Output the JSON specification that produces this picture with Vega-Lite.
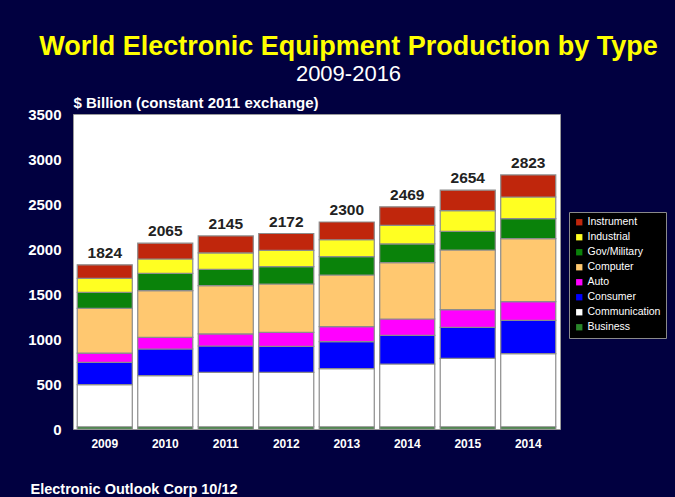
{
  "$schema": "https://vega.github.io/schema/vega-lite/v6.json",
  "width": 487,
  "height": 315,
  "autosize": "none",
  "padding": {"left": 73, "top": 114, "right": 115, "bottom": 68},
  "background": "#010040",
  "title": {
    "text": "World Electronic Equipment Production by Type",
    "subtitle": "2009-2016",
    "anchor": "middle",
    "dx": 32,
    "font": "Liberation Sans",
    "fontSize": 27,
    "fontWeight": "bold",
    "color": "#FFFF00",
    "subtitleFont": "Liberation Sans",
    "subtitleFontSize": 22,
    "subtitleColor": "#FFFFFF",
    "subtitlePadding": 3,
    "offset": 9
  },
  "config": {
    "view": {"fill": "#FFFFFF", "stroke": "#9a9a9a"},
    "axisY": {
      "values": [0, 500, 1000, 1500, 2000, 2500, 3000, 3500],
      "format": "d",
      "labelFont": "Liberation Sans",
      "labelFontSize": 15,
      "labelFontWeight": "bold",
      "labelColor": "#FFFFFF",
      "labelPadding": 12,
      "domain": false,
      "ticks": false,
      "grid": false,
      "titleAngle": 0,
      "titleAlign": "left",
      "titleBaseline": "alphabetic",
      "titleX": 0,
      "titleY": -7,
      "titleColor": "#FFFFFF",
      "titleFont": "Liberation Sans",
      "titleFontSize": 15,
      "titleFontWeight": "bold"
    }
  },
  "data": {
    "values": [
      {"year": "2009", "type": "Business", "value": 25, "ord": 1},
      {"year": "2009", "type": "Communication", "value": 468, "ord": 2},
      {"year": "2009", "type": "Consumer", "value": 248, "ord": 3},
      {"year": "2009", "type": "Auto", "value": 103, "ord": 4},
      {"year": "2009", "type": "Computer", "value": 497, "ord": 5},
      {"year": "2009", "type": "Gov/Military", "value": 178, "ord": 6},
      {"year": "2009", "type": "Industrial", "value": 155, "ord": 7},
      {"year": "2009", "type": "Instrument", "value": 150, "ord": 8},
      {"year": "2010", "type": "Business", "value": 25, "ord": 1},
      {"year": "2010", "type": "Communication", "value": 568, "ord": 2},
      {"year": "2010", "type": "Consumer", "value": 296, "ord": 3},
      {"year": "2010", "type": "Auto", "value": 130, "ord": 4},
      {"year": "2010", "type": "Computer", "value": 518, "ord": 5},
      {"year": "2010", "type": "Gov/Military", "value": 193, "ord": 6},
      {"year": "2010", "type": "Industrial", "value": 159, "ord": 7},
      {"year": "2010", "type": "Instrument", "value": 176, "ord": 8},
      {"year": "2011", "type": "Business", "value": 25, "ord": 1},
      {"year": "2011", "type": "Communication", "value": 605, "ord": 2},
      {"year": "2011", "type": "Consumer", "value": 292, "ord": 3},
      {"year": "2011", "type": "Auto", "value": 134, "ord": 4},
      {"year": "2011", "type": "Computer", "value": 537, "ord": 5},
      {"year": "2011", "type": "Gov/Military", "value": 181, "ord": 6},
      {"year": "2011", "type": "Industrial", "value": 182, "ord": 7},
      {"year": "2011", "type": "Instrument", "value": 189, "ord": 8},
      {"year": "2012", "type": "Business", "value": 25, "ord": 1},
      {"year": "2012", "type": "Communication", "value": 605, "ord": 2},
      {"year": "2012", "type": "Consumer", "value": 289, "ord": 3},
      {"year": "2012", "type": "Auto", "value": 155, "ord": 4},
      {"year": "2012", "type": "Computer", "value": 537, "ord": 5},
      {"year": "2012", "type": "Gov/Military", "value": 193, "ord": 6},
      {"year": "2012", "type": "Industrial", "value": 181, "ord": 7},
      {"year": "2012", "type": "Instrument", "value": 187, "ord": 8},
      {"year": "2013", "type": "Business", "value": 25, "ord": 1},
      {"year": "2013", "type": "Communication", "value": 645, "ord": 2},
      {"year": "2013", "type": "Consumer", "value": 300, "ord": 3},
      {"year": "2013", "type": "Auto", "value": 167, "ord": 4},
      {"year": "2013", "type": "Computer", "value": 574, "ord": 5},
      {"year": "2013", "type": "Gov/Military", "value": 204, "ord": 6},
      {"year": "2013", "type": "Industrial", "value": 188, "ord": 7},
      {"year": "2013", "type": "Instrument", "value": 197, "ord": 8},
      {"year": "2014", "type": "Business", "value": 25, "ord": 1},
      {"year": "2014", "type": "Communication", "value": 697, "ord": 2},
      {"year": "2014", "type": "Consumer", "value": 319, "ord": 3},
      {"year": "2014", "type": "Auto", "value": 181, "ord": 4},
      {"year": "2014", "type": "Computer", "value": 626, "ord": 5},
      {"year": "2014", "type": "Gov/Military", "value": 208, "ord": 6},
      {"year": "2014", "type": "Industrial", "value": 207, "ord": 7},
      {"year": "2014", "type": "Instrument", "value": 206, "ord": 8},
      {"year": "2015", "type": "Business", "value": 25, "ord": 1},
      {"year": "2015", "type": "Communication", "value": 760, "ord": 2},
      {"year": "2015", "type": "Consumer", "value": 345, "ord": 3},
      {"year": "2015", "type": "Auto", "value": 196, "ord": 4},
      {"year": "2015", "type": "Computer", "value": 663, "ord": 5},
      {"year": "2015", "type": "Gov/Military", "value": 207, "ord": 6},
      {"year": "2015", "type": "Industrial", "value": 230, "ord": 7},
      {"year": "2015", "type": "Instrument", "value": 228, "ord": 8},
      {"year": "2016", "type": "Business", "value": 25, "ord": 1},
      {"year": "2016", "type": "Communication", "value": 812, "ord": 2},
      {"year": "2016", "type": "Consumer", "value": 370, "ord": 3},
      {"year": "2016", "type": "Auto", "value": 208, "ord": 4},
      {"year": "2016", "type": "Computer", "value": 700, "ord": 5},
      {"year": "2016", "type": "Gov/Military", "value": 222, "ord": 6},
      {"year": "2016", "type": "Industrial", "value": 241, "ord": 7},
      {"year": "2016", "type": "Instrument", "value": 245, "ord": 8}
    ]
  },
  "encoding": {
    "x": {
      "field": "year",
      "type": "nominal",
      "sort": null,
      "scale": {"paddingInner": 0.09, "paddingOuter": 0.07},
      "axis": {
        "labelExpr": "datum.value == '2016' ? '2014' : datum.value",
        "labelAngle": 0,
        "labelFont": "Liberation Sans",
        "labelFontSize": 12,
        "labelFontWeight": "bold",
        "labelColor": "#FFFFFF",
        "labelPadding": 9,
        "domain": false,
        "ticks": false,
        "grid": false,
        "title": "Electronic Outlook Corp 10/12",
        "titleX": -43,
        "titleY": 64,
        "titleAlign": "left",
        "titleAnchor": "start",
        "titleBaseline": "alphabetic",
        "titleColor": "#FFFFFF",
        "titleFont": "Liberation Sans",
        "titleFontSize": 14.5,
        "titleFontWeight": "bold"
      }
    }
  },
  "layer": [
    {
      "mark": {"type": "bar", "stroke": "#8c8c8c", "strokeWidth": 1.2},
      "encoding": {
        "y": {
          "field": "value",
          "type": "quantitative",
          "stack": "zero",
          "title": "$ Billion (constant 2011 exchange)",
          "scale": {"domain": [0, 3500], "nice": false}
        },
        "order": {"field": "ord", "type": "quantitative", "sort": "ascending"},
        "color": {
          "field": "type",
          "type": "nominal",
          "scale": {
            "domain": ["Instrument", "Industrial", "Gov/Military", "Computer", "Auto", "Consumer", "Communication", "Business"],
            "range": ["#C0260C", "#FFFF22", "#0A820A", "#FFC870", "#FF00FF", "#0000FF", "#FFFFFF", "#2A862A"]
          },
          "legend": {
            "title": null,
            "orient": "none",
            "legendX": 496,
            "legendY": 98,
            "fillColor": "#000000",
            "strokeColor": "#8a8a8a",
            "padding": 5,
            "labelColor": "#FFFFFF",
            "labelFont": "Liberation Sans",
            "labelFontSize": 10.5,
            "labelOffset": 3,
            "symbolType": "square",
            "symbolSize": 40,
            "symbolStrokeWidth": 0,
            "rowPadding": 4
          }
        }
      }
    },
    {
      "transform": [
        {"aggregate": [{"op": "sum", "field": "value", "as": "total"}], "groupby": ["year"]}
      ],
      "mark": {"type": "text", "font": "Liberation Sans", "fontSize": 15.5, "fontWeight": "bold", "color": "#222222", "baseline": "alphabetic", "dy": -7},
      "encoding": {
        "y": {"field": "total", "type": "quantitative", "title": "$ Billion (constant 2011 exchange)"},
        "text": {"field": "total", "type": "quantitative"}
      }
    }
  ]
}
